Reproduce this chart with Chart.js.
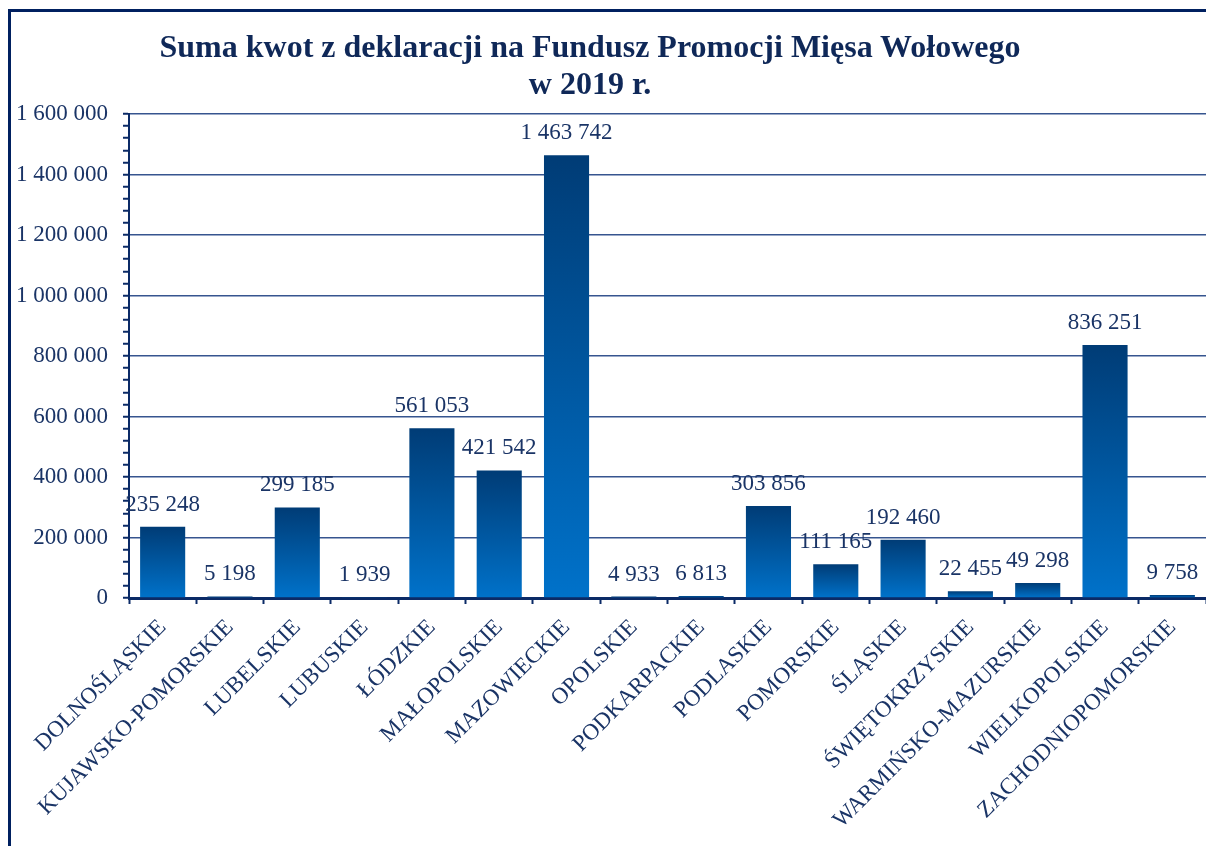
<!DOCTYPE html>
<html>
<head>
<meta charset="utf-8">
<script src="https://cdn.jsdelivr.net/npm/chart.js@4"></script>
<style>
  html, body { margin: 0; padding: 0; background: #fff; overflow: hidden; }
  .frame {
    position: absolute; left: 8px; top: 9px;
    width: 1220px; height: 860px;
    border-top: 3px solid #002060; border-left: 3px solid #002060;
  }
  .frame canvas { position: absolute; left: 0; top: 0; }
  .title {
    position: absolute; left: 0; top: 28px; width: 1180px;
    text-align: center; color: #0f2858;
    font: bold 32px "Liberation Serif", serif; line-height: 37px;
  }
</style>
</head>
<body>
<div class="frame"><canvas id="chart" width="1195" height="834"></canvas></div>
<div class="title">Suma kwot z deklaracji na Fundusz Promocji Mięsa Wołowego<br>w 2019 r.</div>
<script>
// dane
const wojewodztwa = ['DOLNOŚLĄSKIE', 'KUJAWSKO-POMORSKIE', 'LUBELSKIE', 'LUBUSKIE', 'ŁÓDZKIE', 'MAŁOPOLSKIE',
  'MAZOWIECKIE', 'OPOLSKIE', 'PODKARPACKIE', 'PODLASKIE', 'POMORSKIE', 'ŚLĄSKIE', 'ŚWIĘTOKRZYSKIE',
  'WARMIŃSKO-MAZURSKIE', 'WIELKOPOLSKIE', 'ZACHODNIOPOMORSKIE'];
const kwoty = [235248, 5198, 299185, 1939, 561053, 421542, 1463742, 4933, 6813, 303856, 111165, 192460, 22455, 49298, 836251, 9758];
const osY = [0, 1600000];      // min, max
const krokGlowny = 200000;     // opisane linie siatki
const krokPomocniczy = 40000;  // male kreski na osi

const navy = '#0b2a66';
const textColor = '#1a3466';

const fmt = (v) => String(v).replace(/\B(?=(\d{3})+(?!\d))/g, ' ');

// etykiety nad slupkami
const etykiety = {
  id: 'etykiety',
  afterDatasetsDraw(chart) {
    const c = chart.ctx;
    const meta = chart.getDatasetMeta(0);
    c.save();
    c.font = '23px "Liberation Serif"';
    c.fillStyle = textColor;
    c.textAlign = 'center';
    c.textBaseline = 'alphabetic';
    meta.data.forEach((bar, i) => c.fillText(fmt(kwoty[i]), bar.x, bar.y - 16));
    c.restore();
  }
};

new Chart(document.getElementById('chart'), {
  type: 'bar',
  data: {
    labels: wojewodztwa,
    datasets: [{
      data: kwoty,
      barPercentage: 0.67,
      categoryPercentage: 1,
      borderWidth: 0,
      backgroundColor: (ctx) => {
        const chart = ctx.chart;
        if (!chart.chartArea || ctx.type !== 'data') return '#0058a8';
        const y = chart.scales.y;
        const top = y.getPixelForValue(ctx.raw);
        const bottom = y.getPixelForValue(0);
        const g = chart.ctx.createLinearGradient(0, top, 0, bottom);
        g.addColorStop(0, '#003c76');
        g.addColorStop(1, '#0072ca');
        return g;
      },
    }],
  },
  options: {
    responsive: false,
    animation: false,
    layout: { padding: { top: 102, left: 0, right: 0, bottom: 0 } },
    plugins: {
      legend: { display: false },
      tooltip: { enabled: false },
    },
    scales: {
      x: {
        border: { color: navy, width: 3 },
        grid: { drawOnChartArea: false, tickColor: navy, tickLength: 6, tickWidth: 2, offset: true },
        ticks: {
          color: textColor,
          font: { family: 'Liberation Serif', size: 23 },
          maxRotation: 45, minRotation: 45, autoSkip: false, padding: 10,
        },
        afterFit: (s) => { s.height = 248; },
      },
      y: {
        min: osY[0], max: osY[1],
        border: { color: navy, width: 2 },
        grid: {
          color: (ctx) => (ctx.tick && ctx.tick.value % krokGlowny === 0 ? '#36558f' : 'transparent'),
          lineWidth: 1.5,
          tickColor: navy, tickLength: 6, tickWidth: 2,
        },
        ticks: {
          stepSize: krokPomocniczy, autoSkip: false,
          color: textColor,
          font: { family: 'Liberation Serif', size: 23 },
          padding: 15,
          callback: (v) => (v % krokGlowny === 0 ? fmt(v) : ''),
        },
        afterFit: (s) => { s.width = 118; },
      },
    },
  },
  plugins: [etykiety],
});
</script>
</body>
</html>
